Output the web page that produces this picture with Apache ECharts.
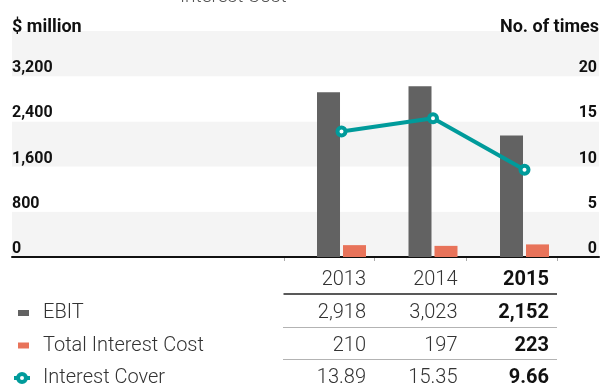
<!DOCTYPE html>
<html>
<head>
<meta charset="utf-8">
<script src="https://cdn.jsdelivr.net/npm/echarts@6/dist/echarts.min.js"></script>
<style>
  html, body { margin: 0; padding: 0; background: #fff; }
  #chart { width: 602px; height: 390px; }
</style>
</head>
<body>
<div id="chart"></div>
<script>
// Data
const years = ['2013', '2014', '2015'];
const ebit = [2918, 3023, 2152];
const interestCost = [210, 197, 223];
const interestCover = [13.89, 15.35, 9.66];

// Axis ticks
const amountTicks = [0, 800, 1600, 2400, 3200, 4000];
const timesTicks = [0, 5, 10, 15, 20, 25];

const FONT = 'Roboto';
const TEAL = '#009b9b';
const GREY = '#626262';
const CORAL = '#e8735a';

// Legend swatch for the bars: an 11x6 block inside the 16x10 icon box
const BAR_ICON = 'path://M0,0M16,10M4,2h11v6h-11z';

const chart = echarts.init(document.getElementById('chart'), null, { renderer: 'canvas' });

const gridTop = 31, gridBottom = 133;

function axisRange(ticks) {
  return { min: ticks[0], max: ticks[ticks.length - 1], interval: ticks[1] - ticks[0] };
}
const amt = axisRange(amountTicks);
const tms = axisRange(timesTicks);

const labelStyle = {
  inside: true,
  margin: 0,
  verticalAlign: 'bottom',
  fontFamily: FONT,
  fontWeight: 'bold',
  fontSize: 16,
  color: '#111',
  showMaxLabel: false
};
const nameStyle = { verticalAlign: 'middle', fontFamily: FONT, fontWeight: 'bold', fontSize: 18, color: '#111' };

chart.setOption({
  animation: false,
  grid: [
    { left: 12, right: 0, top: gridTop, bottom: gridBottom },
    { left: 295.75, right: 31.75, top: gridTop, bottom: gridBottom }
  ],
  xAxis: [
    {
      gridIndex: 0, type: 'value', min: 0, max: 1,
      axisLine: { show: true, lineStyle: { color: '#111', width: 2 } },
      axisTick: { show: false }, axisLabel: { show: false }, splitLine: { show: false }
    },
    { gridIndex: 1, type: 'category', data: years, show: false }
  ],
  yAxis: [
    {
      gridIndex: 0, type: 'value', position: 'left',
      min: amt.min, max: amt.max, interval: amt.interval,
      name: '$ million', nameLocation: 'end', nameGap: 4,
      nameTextStyle: Object.assign({ align: 'left' }, nameStyle),
      axisLine: { show: false }, axisTick: { show: false }, splitLine: { show: false },
      splitArea: { show: true, areaStyle: { color: ['#f4f4f4', '#ffffff'] } },
      axisLabel: Object.assign({}, labelStyle, {
        formatter: v => v.toLocaleString('en-US')
      })
    },
    {
      gridIndex: 0, type: 'value', position: 'right',
      min: tms.min, max: tms.max, interval: tms.interval,
      name: 'No. of times', nameLocation: 'end', nameGap: 4,
      nameTextStyle: Object.assign({ align: 'right' }, nameStyle),
      axisLine: { show: false }, axisTick: { show: false }, splitLine: { show: false },
      axisLabel: Object.assign({}, labelStyle, { margin: 2 })
    },
    { gridIndex: 1, type: 'value', min: amt.min, max: amt.max, interval: amt.interval, show: false, splitLine: { show: false } },
    { gridIndex: 1, type: 'value', min: tms.min, max: tms.max, interval: tms.interval, show: false, splitLine: { show: false }, position: 'right' }
  ],
  legend: {
    orient: 'vertical', left: 12, top: 303, padding: 0,
    itemWidth: 16, itemHeight: 10, itemGap: 12.5,
    textStyle: { fontFamily: FONT, fontWeight: 300, fontSize: 20, lineHeight: 20, color: '#333', padding: [0, 0, 0, 8] },
    data: [
      { name: 'EBIT', icon: BAR_ICON },
      { name: 'Total Interest Cost', icon: BAR_ICON },
      {
        name: 'Interest Cover',
        lineStyle: { width: 4, color: TEAL },
        itemStyle: { color: '#fff', borderColor: TEAL, borderWidth: 4 }
      }
    ]
  },
  series: [
    {
      name: 'EBIT', type: 'bar', xAxisIndex: 1, yAxisIndex: 2,
      data: ebit, barWidth: 23, barGap: '13%',
      itemStyle: { color: GREY }
    },
    {
      name: 'Total Interest Cost', type: 'bar', xAxisIndex: 1, yAxisIndex: 2,
      data: interestCost, barWidth: 23, barGap: '13%',
      itemStyle: { color: CORAL }
    },
    {
      name: 'Interest Cover', type: 'line', xAxisIndex: 1, yAxisIndex: 3,
      data: interestCover, symbol: 'circle', symbolSize: 8,
      lineStyle: { color: TEAL, width: 4 },
      itemStyle: { color: '#fff', borderColor: TEAL, borderWidth: 4 },
      z: 5
    }
  ]
});

// Data table beneath the plot, columns aligned to the year categories
const centers = years.map(y => chart.convertToPixel({ xAxisIndex: 1 }, y));
const colRight = centers.map(c => c + 24.5);
const tableLeft = centers[0] - 58;
const tableRight = centers[centers.length - 1] + 32.5;
const rowY = [280, 313, 345.5, 378];
const rows = [
  years,
  ebit.map(v => v.toLocaleString('en-US')),
  interestCost.map(v => String(v)),
  interestCover.map(v => v.toFixed(2))
];

const graphics = [];
rows.forEach((row, r) => {
  row.forEach((txt, c) => {
    const last = c === row.length - 1;
    graphics.push({
      type: 'text',
      style: {
        text: txt, x: colRight[c], y: rowY[r],
        textAlign: 'right', textVerticalAlign: 'middle',
        font: (last ? 'bold ' : '300 ') + '20px ' + FONT,
        fill: last ? '#111' : '#333'
      }
    });
  });
});
// header rule and dotted row separators
graphics.push({
  type: 'line', shape: { x1: tableLeft, y1: 294, x2: tableRight, y2: 294 },
  style: { stroke: '#222', lineWidth: 1.5 }
});
[327.5, 359.5].forEach(y => graphics.push({
  type: 'line', shape: { x1: tableLeft, y1: y, x2: tableRight, y2: y },
  style: { stroke: '#666', lineWidth: 1, lineDash: [1, 1] }
}));
// column separators under the baseline
[tableLeft].concat(centers.map(c => c + 32.5)).forEach(x => graphics.push({
  type: 'line', shape: { x1: Math.round(x) + 0.5, y1: 258, x2: Math.round(x) + 0.5, y2: 261 },
  style: { stroke: '#aaa', lineWidth: 1 }
}));
// heading, cut by the top edge
graphics.push({
  type: 'text',
  style: {
    text: 'Interest Cost', x: 180, y: -3,
    textAlign: 'left', textVerticalAlign: 'middle',
    font: '300 19px ' + FONT, fill: '#555'
  }
});

chart.setOption({ graphic: { elements: graphics } });
</script>
</body>
</html>
